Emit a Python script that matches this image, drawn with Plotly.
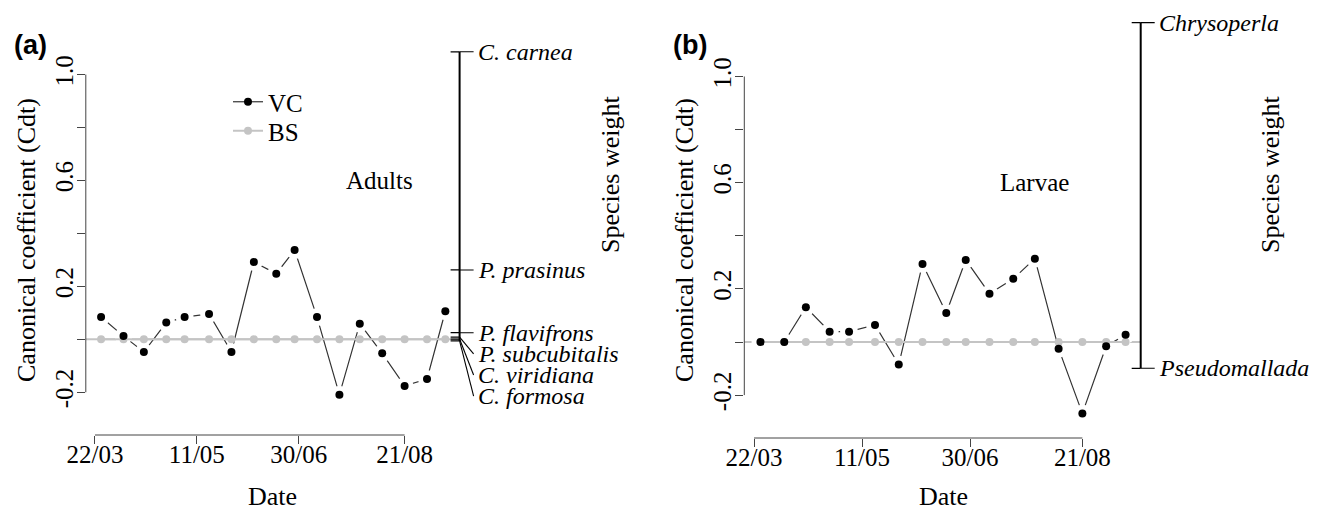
import plotly.graph_objects as go

# ---------------- data ----------------
dates = ["2010-03-25", "2010-04-05", "2010-04-15", "2010-04-26", "2010-05-05",
         "2010-05-17", "2010-05-28", "2010-06-08", "2010-06-19", "2010-06-28",
         "2010-07-09", "2010-07-20", "2010-07-30", "2010-08-10", "2010-08-21",
         "2010-09-01", "2010-09-10"]

vc_adults = [0.084, 0.012, -0.048, 0.063, 0.084, 0.096, -0.048, 0.292, 0.248,
             0.337, 0.084, -0.209, 0.059, -0.053, -0.176, -0.150, 0.106]
vc_larvae = [0.0, 0.0, 0.131, 0.039, 0.039, 0.064, -0.085, 0.294, 0.109,
             0.309, 0.182, 0.238, 0.314, -0.025, -0.269, -0.016, 0.027]
bs_values = [0, 0, 0, 0, 0, 0, 0, 0, 0, 0, 0, 0, 0, 0, 0, 0, 0]

species_adults = ["C. carnea", "P. prasinus", "P. flavifrons", "P. subcubitalis",
                  "C. viridiana", "C. formosa"]
weights_adults = [1.086, 0.262, 0.025, 0.008, 0.001, -0.006]
species_larvae = ["Chrysoperla", "Pseudomallada"]
weights_larvae = [1.203, -0.099]

y_ticks = [-0.2, 0.0, 0.2, 0.4, 0.6, 0.8, 1.0]
y_ticklabels = ["-0.2", "", "0.2", "", "0.6", "", "1.0"]
x_ticks = ["2010-03-22", "2010-05-11", "2010-06-30", "2010-08-21"]
x_ticklabels = ["22/03", "11/05", "30/06", "21/08"]
x_range = ["2010-03-17 12:00", "2010-09-17"]
y_range = [-0.3, 1.25]

SERIF = "Liberation Serif"
SANS = "Liberation Sans"
W, H = 1320, 511

fig = go.Figure()
shapes = []
annotations = []


def px(x):
    return x / W


def py(y):
    return 1 - y / H


def stack_labels(values, gap):
    pos = []
    for v in values:
        if pos and pos[-1] - v < gap:
            pos.append(pos[-1] - gap)
        else:
            pos.append(v)
    return pos


def panel(idx, vc, species, weights, xdom, ydom, xpos, show_legend):
    xa = "x" if idx == 1 else "x%d" % idx
    ya = "y" if idx == 1 else "y%d" % idx
    # VC line (with markers for legend)
    fig.add_trace(go.Scatter(x=dates, y=vc, mode="lines+markers", name="VC",
                             line=dict(color="#333333", width=1.2),
                             marker=dict(color="black", size=8),
                             xaxis=xa, yaxis=ya, showlegend=show_legend,
                             legend="legend", cliponaxis=False))
    # white halo (type="b" gaps)
    fig.add_trace(go.Scatter(x=dates, y=vc, mode="markers",
                             marker=dict(color="white", size=18),
                             xaxis=xa, yaxis=ya, showlegend=False,
                             hoverinfo="skip", cliponaxis=False))
    # BS
    fig.add_trace(go.Scatter(x=dates, y=bs_values, mode="lines+markers", name="BS",
                             line=dict(color="#c4c4c4", width=2),
                             marker=dict(color="#c4c4c4", size=8),
                             xaxis=xa, yaxis=ya, showlegend=show_legend,
                             legend="legend2", cliponaxis=False))
    # VC markers on top
    fig.add_trace(go.Scatter(x=dates, y=vc, mode="markers",
                             marker=dict(color="black", size=8),
                             xaxis=xa, yaxis=ya, showlegend=False,
                             cliponaxis=False))

    xaxis = dict(domain=xdom, anchor="free", position=xpos, type="date",
                 range=x_range, tickvals=x_ticks, ticktext=x_ticklabels,
                 ticks="outside", ticklen=8, tickcolor="#444", tickwidth=1,
                 ticklabelstandoff=-11,
                 showline=False, showgrid=False, zeroline=False, automargin=False,
                 tickfont=dict(family=SERIF, size=25, color="black"))
    yaxis = dict(domain=ydom, anchor=xa, range=y_range, tickvals=y_ticks,
                 ticktext=y_ticklabels, tickangle=-90, ticks="outside",
                 ticklen=8, tickcolor="#444", tickwidth=1, automargin=False,
                 ticklabelstandoff=-6,
                 showline=False, showgrid=False, zeroline=False,
                 tickfont=dict(family=SERIF, size=25, color="black"))
    key = "" if idx == 1 else str(idx)
    fig.update_layout(**{"xaxis" + key: xaxis, "yaxis" + key: yaxis})

    xd = xa + " domain"
    # y axis line (only over tick range)
    shapes.append(dict(type="line", xref=xd, yref=ya, x0=0, x1=0,
                       y0=y_ticks[0], y1=y_ticks[-1],
                       line=dict(color="#444", width=1)))
    # x axis line (only over tick range)
    shapes.append(dict(type="line", xref=xa, yref="paper", x0=x_ticks[0],
                       x1=x_ticks[-1], y0=xpos, y1=xpos,
                       line=dict(color="#444", width=1)))
    # BS baseline across plot region
    shapes.append(dict(type="line", xref=xd, yref=ya, x0=0, x1=1,
                       y0=bs_values[0], y1=bs_values[0], layer="below",
                       line=dict(color="#c4c4c4", width=2)))
    # species weight axis
    shapes.append(dict(type="line", xref=xd, yref=ya, x0=1, x1=1,
                       y0=min(weights), y1=max(weights),
                       line=dict(color="black", width=2)))
    label_pos = stack_labels(weights, 0.08)
    for name, w, lp in zip(species, weights, label_pos):
        shapes.append(dict(type="line", xref=xd, yref=ya, xsizemode="pixel",
                           xanchor=1, x0=-9, x1=0, y0=w, y1=w,
                           line=dict(color="black", width=1.3)))
        shapes.append(dict(type="line", xref=xd, yref=ya, xsizemode="pixel",
                           xanchor=1, x0=0, x1=14, y0=w, y1=lp,
                           line=dict(color="black", width=1.1)))
        annotations.append(dict(xref=xd, yref=ya, x=1, y=lp, xshift=16,
                                xanchor="left", yanchor="middle",
                                text="<i>%s</i>" % name, showarrow=False,
                                font=dict(family=SERIF, size=24, color="black")))


# y mapping: panel a zero at 339.3px, 264.75 px/unit; panel b zero 342px, 265.5 px/unit
panel(1, vc_adults, species_adults, weights_adults,
      [px(85.8), px(459.6)], [py(339.3 + 0.3 * 264.75), py(339.3 - 1.25 * 264.75)],
      py(435), True)
panel(2, vc_larvae, species_larvae, weights_larvae,
      [px(744.3), px(1140.7)], [py(342 + 0.3 * 265.5), py(342 - 1.25 * 265.5)],
      py(438), False)


def text(x, y, s, size=26, angle=0, family=SERIF):
    annotations.append(dict(xref="paper", yref="paper", x=px(x), y=py(y),
                            text=s, showarrow=False, textangle=angle,
                            xanchor="center", yanchor="middle",
                            font=dict(family=family, size=size, color="black")))


text(30, 45, "<b>(a)</b>", size=27, family=SANS)
text(690, 45, "<b>(b)</b>", size=27, family=SANS)
text(26, 240, "Canonical coefficient (Cdt)", angle=-90)
text(684, 240, "Canonical coefficient (Cdt)", angle=-90)
text(272, 496, "Date")
text(943, 496, "Date")
text(610, 175, "Species weight", angle=-90)
text(1270, 175, "Species weight", angle=-90)
text(379, 180, "Adults", size=25)
text(1034, 182, "Larvae", size=25)

legend_common = dict(xanchor="left", yanchor="middle", bgcolor="rgba(0,0,0,0)",
                     font=dict(family=SERIF, size=25, color="black"))
fig.update_layout(
    width=W, height=H, margin=dict(l=0, r=0, t=0, b=0, autoexpand=False),
    paper_bgcolor="white", plot_bgcolor="white",
    shapes=shapes, annotations=annotations,
    legend=dict(x=px(228), y=py(102), **legend_common),
    legend2=dict(x=px(228), y=py(131), **legend_common),
)

fig.write_html("out.html")
